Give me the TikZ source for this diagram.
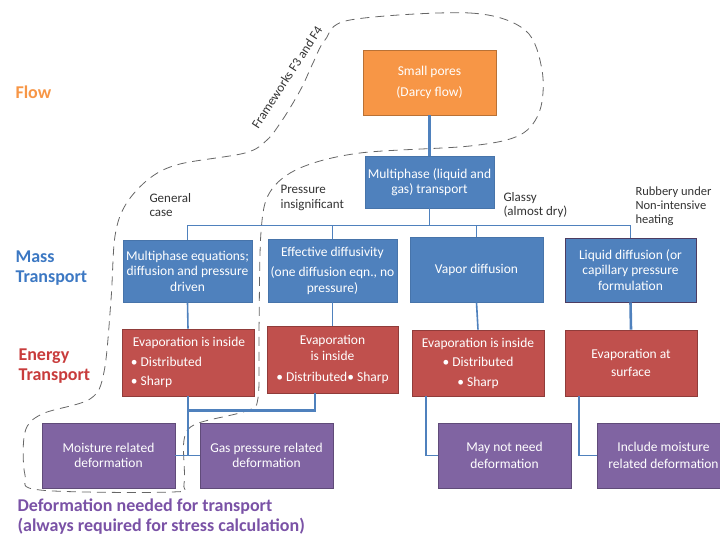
\documentclass[tikz,border=0pt]{standalone}
\usepackage{fontspec}
\setmainfont{Carlito}
\usetikzlibrary{calc}
\definecolor{cflow}{HTML}{F79646}
\definecolor{cmass}{HTML}{4F81BD}
\definecolor{cenergy}{HTML}{C0504D}
\definecolor{cdef}{HTML}{8064A2}
\definecolor{cmasstxt}{HTML}{3C78C3}
\definecolor{cenergytxt}{HTML}{C83C3C}
\definecolor{cdeftxt}{HTML}{7A52A6}
\newcommand{\boxfont}{\fontsize{13.5}{15.5}\selectfont}
\newcommand{\notefont}{\fontsize{13}{14.5}\selectfont}
\newcommand{\labfont}{\fontsize{18}{20}\selectfont\bfseries}
\tikzset{
	box/.style={rectangle, draw, line width=0.9pt, text=white, align=center, font=\boxfont, inner sep=1pt, minimum width=131pt, minimum height=65pt},
	flowbox/.style={box, fill=cflow, draw=cflow!75!black},
	massbox/.style={box, fill=cmass, draw=cmass!90!black},
	energybox/.style={box, fill=cenergy, draw=cenergy!75!black},
	defbox/.style={box, fill=cdef, draw=cdef!75!black},
	link/.style={draw=cmass, line width=1.6pt},
	heavylink/.style={draw=cmass, line width=2.6pt},
	note/.style={font=\notefont, text=black!80, align=left, anchor=west},
	lab/.style={font=\labfont, align=left, anchor=west},
}

\begin{document}
\begin{tikzpicture}[x=1pt, y=-1pt]
			%%%%% START %%%%%
			\useasboundingbox (0,0) rectangle (720,540);
			\clip (0,0) rectangle (720,540);
			
			% framework outline
			\draw[dashed, dash pattern=on 9pt off 6pt, line width=0.8pt, color=black!60]
				plot[smooth cycle, tension=0.55] coordinates {
					(350,20) (470,13) (525,30) (542,70) (540,110) (520,135) (470,146) (360,153)
					(300,168) (270,192) (261,232) (259,330) (258,398) (246,411) (196,424)
					(184,440) (184,484) (172,492) (40,490) (25,475) (25,432) (42,414)
					(90,399) (104,372) (111,300) (115,236) (126,204) (150,178) (180,164)
					(245,153) (267,140) (281,122) (293,103) (303,85) (313,63) (325,40)};
			\node[font=\notefont, text=black!80, rotate=57] (fw) at (287,77) {Frameworks F3 and F4};
			
			% row labels
			\node[lab, text=cflow] (flow) at (12,92) {Flow};
			\node[lab, text=cmasstxt] (mass) at (12,268) {Mass\\Transport};
			\node[lab, text=cenergytxt] (energy) at (15,366) {Energy\\Transport};
			\node[lab, text=cdeftxt] (deform) at (14,517) {Deformation needed for transport\\(always required for stress calculation)};
			
			% boxes
			\node[flowbox, minimum width=133pt] (pores) at (429.5,82.5) {Small pores\\[6pt](Darcy flow)};
			\node[massbox, minimum width=129pt, minimum height=52pt] (multi) at (429.5,182) {Multiphase (liquid and\\gas) transport};
			
			\node[massbox, minimum width=129pt, minimum height=62pt] (meq) at (187.5,271) {Multiphase equations;\\diffusion and pressure\\driven};
			\node[massbox, minimum width=129pt, minimum height=63pt] (effd) at (332.5,270.5) {Effective diffusivity\\[5pt](one diffusion eqn., no\\pressure)};
			\node[massbox, minimum width=133pt] (vap) at (476.5,269.5) {Vapor diffusion};
			\node[massbox, draw=cdef!60!black, minimum height=64pt] (liq) at (630.5,270) {Liquid diffusion (or\\capillary pressure\\formulation};
			
			\node[energybox, minimum width=132pt, minimum height=67pt, align=left] (ev1) at (188,362.5) {\hspace*{2pt}Evaporation is inside\\[4pt]\textbullet\ Distributed\\[4pt]\textbullet\ Sharp};
			\node[energybox, minimum height=67pt] (ev2) at (332.5,359.5) {Evaporation\\is inside\\[6pt]\textbullet\ Distributed\textbullet\ Sharp};
			\node[energybox, minimum width=132pt, minimum height=66pt] (ev3) at (478,363) {Evaporation is inside\\[4pt]\textbullet\ Distributed\\[4pt]\textbullet\ Sharp};
			\node[energybox, minimum width=132pt, minimum height=66pt] (evs) at (631,363) {Evaporation at\\[2pt]surface};
			
			\node[defbox, minimum width=133pt] (dm) at (108.5,455.5) {Moisture related\\deformation};
			\node[defbox, minimum width=133pt] (dg) at (266.5,455.5) {Gas pressure related\\deformation};
			\node[defbox, minimum width=133pt] (dn) at (504.5,455.5) {May not need\\[2pt]deformation};
			\node[defbox, minimum width=133pt] (di) at (663.5,455.5) {Include moisture\\[2pt]related deformation};
			
			% case notes
			\node[note] (gen) at (146,205) {General\\case};
			\node[note] (pin) at (277,198) {Pressure\\insignificant};
			\node[note] (gla) at (500,205) {Glassy\\(almost dry)};
			\node[note, font=\fontsize{12.5}{13.8}\selectfont] (rub) at (632,206) {Rubbery under\\Non-intensive\\heating};
			
			% connectors
			\draw[heavylink] (pores.south) -- (multi.north);
			\draw[link] (multi.south) -- ++(0,17) coordinate (bar);
			\draw[link] (meq.north) |- (bar) -| (liq.north);
			\draw[link] (effd.north) -- (effd.north |- bar);
			\draw[link] (vap.north) -- (vap.north |- bar);
			
			\draw[link] (meq.south) -- (ev1.north);
			\draw[link] (effd.south) -- (effd.south |- ev2.north);
			\draw[link] (vap.south) -- (ev3.north);
			\draw[heavylink] (liq.south) -- (evs.north);
			
			\draw[link] (ev1.south) -- (ev1.south |- dm.east);
			\draw[link] (dm.east) -- (dg.west);
			\draw[heavylink] ([xshift=-17.5pt]ev2.south) |- ([yshift=-14pt]ev1.south);
			\draw[link] ([xshift=-52pt]ev3.south) |- (dn.west);
			\draw[link] ([xshift=-52pt]evs.south) |- (di.west);
			
			%%%%% END %%%%%
		\end{tikzpicture}
\end{document}
